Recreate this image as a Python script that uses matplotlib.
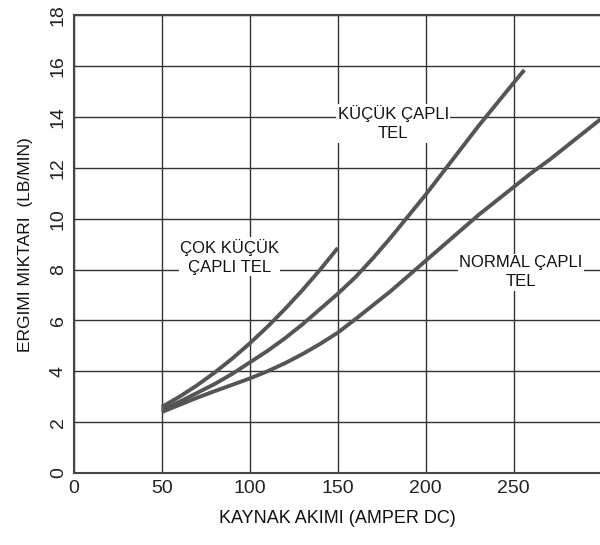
import matplotlib
matplotlib.use("Agg")
from matplotlib import pyplot as plt

plt.rcParams['font.family'] = ['Liberation Sans', 'DejaVu Sans']

# data
cok_kucuk_x = [50, 60, 70, 80, 90, 100, 110, 120, 130, 140, 150]
cok_kucuk_y = [2.6, 3.0, 3.45, 3.95, 4.5, 5.1, 5.75, 6.45, 7.2, 8.0, 8.85]

kucuk_x = [50, 60, 70, 80, 90, 100, 110, 120, 130, 140, 150, 160, 170, 180,
           190, 200, 210, 220, 230, 240, 250, 256]
kucuk_y = [2.5, 2.8, 3.15, 3.5, 3.9, 4.35, 4.8, 5.3, 5.85, 6.45, 7.05, 7.7,
           8.45, 9.25, 10.1, 10.95, 11.85, 12.75, 13.65, 14.5, 15.35, 15.85]

normal_x = [50, 60, 70, 80, 90, 100, 110, 120, 130, 140, 150, 160, 170, 180,
            190, 200, 210, 220, 230, 240, 250, 260, 270, 280, 290, 300]
normal_y = [2.4, 2.68, 2.96, 3.22, 3.47, 3.72, 4.0, 4.32, 4.68, 5.08, 5.52,
            6.05, 6.6, 7.15, 7.75, 8.35, 8.95, 9.55, 10.15, 10.7, 11.25, 11.8,
            12.3, 12.85, 13.4, 13.95]

x_ticks = [0, 50, 100, 150, 200, 250]
y_ticks = [0, 2, 4, 6, 8, 10, 12, 14, 16, 18]

fig = plt.figure(figsize=(6, 5.45), dpi=100)
ax = fig.add_axes([0.123, 0.132, 0.877, 0.840])

line_col = '#555555'
for xs, ys in [(cok_kucuk_x, cok_kucuk_y), (kucuk_x, kucuk_y), (normal_x, normal_y)]:
    ax.plot(xs, ys, color=line_col, lw=2.8, zorder=3,
            solid_joinstyle='round', solid_capstyle='butt')

ax.set_xlim(0, 299)
ax.set_ylim(0, 18)
ax.set_xticks(x_ticks)
ax.set_yticks(y_ticks)
ax.grid(True, color='#333333', lw=1.0)
ax.set_axisbelow(True)
ax.tick_params(length=0, labelsize=14, pad=5, colors='#222222')
for lab in ax.get_yticklabels():
    lab.set_rotation(90)
    lab.set_va('center')
for s in ['left', 'bottom', 'top']:
    ax.spines[s].set_color('#444444')
    ax.spines[s].set_linewidth(1.5)
ax.spines['right'].set_visible(False)

box = dict(facecolor='white', edgecolor='none', pad=1)
ax.text(88.5, 8.5, 'ÇOK KÜÇÜK\nÇAPLI TEL', ha='center', va='center',
        fontsize=12, linespacing=1.35, bbox=box, zorder=2, color='#111111')
ax.text(181.5, 13.75, 'KÜÇÜK ÇAPLI\nTEL', ha='center', va='center',
        fontsize=12, linespacing=1.35, bbox=box, zorder=2, color='#111111')
ax.text(254, 7.9, 'NORMAL ÇAPLI\nTEL', ha='center', va='center',
        fontsize=12, linespacing=1.35, bbox=box, zorder=2, color='#111111')

ax.set_xlabel('KAYNAK AKIMI (AMPER DC)', fontsize=13, labelpad=9, color='#111111')
ax.set_ylabel('ERGIMI MIKTARI  (LB/MIN)', fontsize=12.5, labelpad=12, color='#111111')

fig.savefig('out.png', dpi=100)
